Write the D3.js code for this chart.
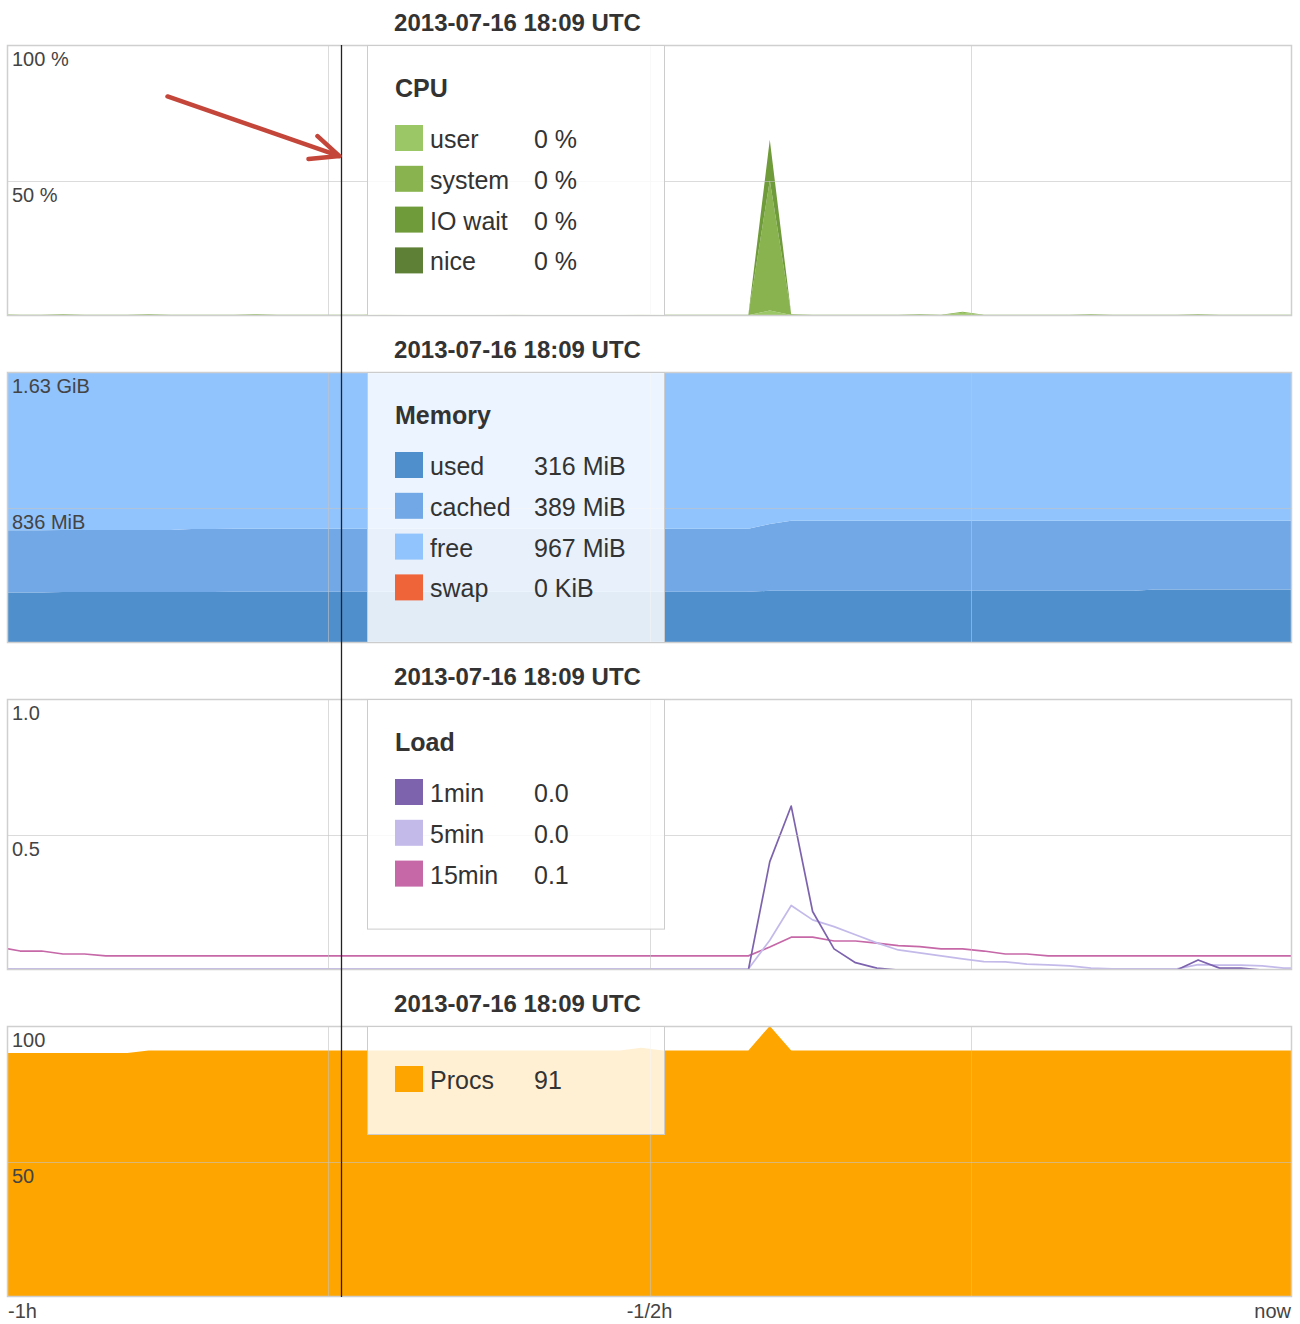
<!DOCTYPE html>
<html>
<head>
<meta charset="utf-8">
<script src="https://cdn.jsdelivr.net/npm/d3@7"></script>
<style>
  html, body { margin: 0; padding: 0; background: #fff; }
  svg { display: block; font-family: "Liberation Sans", Arial, sans-serif; }
</style>
</head>
<body>
<svg id="chart" width="1300" height="1324"></svg>
<script>
// ---- time window: one sample per minute, last hour ----
const firstSample = "2013-07-16T17:53:00Z";
const lastSample  = "2013-07-16T18:53:00Z";
const windowEnd   = "2013-07-16T18:53:23Z";
const cursorTime  = "2013-07-16T18:09:00Z";
const timeTickLabels = ["-1h", "-1/2h", "now"];

// ---- CPU (%) ----
const cpuKeys   = ["user", "system", "IO wait", "nice"];
const cpuColors = ["#9cc766", "#88b34f", "#6f9b3a", "#5d7f36"];
const cpuUser   = [0.4,0.3,0.3,0.4,0.3,0.3,0.3,0.4,0.3,0.3, 0.3,0.3,0.4,0.3,0.3,0.3,0.3,0.3,0.4,0.3, 0.3,0.3,0.3,0.3,0.4,0.3,0.3,0.3,0.3,0.3, 0.4,0.3,0.3,0.3,0.3,0.3,2.0,0.4,0.3,0.3, 0.3,0.3,0.3,0.4,0.3,1.2,0.3,0.3,0.3,0.3, 0.3,0.4,0.3,0.3,0.3,0.3,0.4,0.3,0.3,0.3, 0.3];
const cpuSystem = [0.2,0.2,0.2,0.2,0.2,0.2,0.2,0.2,0.2,0.2, 0.2,0.2,0.2,0.2,0.2,0.2,0.2,0.2,0.2,0.2, 0.2,0.2,0.2,0.2,0.2,0.2,0.2,0.2,0.2,0.2, 0.2,0.2,0.2,0.2,0.2,0.2,48,0.2,0.2,0.2, 0.2,0.2,0.2,0.2,0.2,0.4,0.2,0.2,0.2,0.2, 0.2,0.2,0.2,0.2,0.2,0.2,0.2,0.2,0.2,0.2, 0.2];
const cpuIowait = [0,0,0,0,0,0,0,0,0,0, 0,0,0,0,0,0,0,0,0,0, 0,0,0,0,0,0,0,0,0,0, 0,0,0,0,0,0,15,0,0,0, 0,0,0,0,0,0,0,0,0,0, 0,0,0,0,0,0,0,0,0,0, 0];
const cpuNice   = [0,0,0,0,0,0,0,0,0,0, 0,0,0,0,0,0,0,0,0,0, 0,0,0,0,0,0,0,0,0,0, 0,0,0,0,0,0,0,0,0,0, 0,0,0,0,0,0,0,0,0,0, 0,0,0,0,0,0,0,0,0,0, 0];
const cpuTicks  = [50, 100];

// ---- Memory (MiB) ----
const memKeys   = ["used", "cached", "free"];
const memColors = ["#4f8fcc", "#72a8e6", "#91c3fc"];
const swapColor = "#f0643a";
const memUsed   = [312,312,312,314,314,314,314,314,314,314, 314,316,316,316,316,316,316,316,316,316, 316,316,316,316,316,316,316,316,316,316, 316,316,316,316,316,316,322,322,322,322, 322,322,322,322,322,322,322,322,322,322, 322,322,322,322,330,330,330,330,330,330, 330];
const memCached = [383,383,383,383,383,383,383,383,383,389, 389,389,389,389,389,389,389,389,389,389, 389,389,389,389,389,389,389,389,389,389, 389,389,389,389,389,389,412,433,433,433, 433,433,433,433,433,433,433,433,433,433, 433,433,433,433,425,425,425,425,425,425, 425];
const memFree   = [977,977,977,975,975,975,975,975,975,969, 969,967,967,967,967,967,967,967,967,967, 967,967,967,967,967,967,967,967,967,967, 967,967,967,967,967,967,938,917,917,917, 917,917,917,917,917,917,917,917,917,917, 917,917,917,917,917,917,917,917,917,917, 917];
const memSwap   = [0,0,0,0,0,0,0,0,0,0, 0,0,0,0,0,0,0,0,0,0, 0,0,0,0,0,0,0,0,0,0, 0,0,0,0,0,0,0,0,0,0, 0,0,0,0,0,0,0,0,0,0, 0,0,0,0,0,0,0,0,0,0, 0];
const memTicks  = [836, 1672];

// ---- Load average ----
const loadKeys   = ["1min", "5min", "15min"];
const loadColors = ["#7d63ae", "#c4baea", "#c668a8"];
const load1  = [0,0,0,0,0,0,0,0,0,0, 0,0,0,0,0,0,0,0,0,0, 0,0,0,0,0,0,0,0,0,0, 0,0,0,0,0,0,0.40,0.605,0.216,0.078, 0.027,0.007,0,0,0,0,0,0,0,0, 0,0,0,0,0,0,0.037,0.007,0.007,0, 0];
const load5  = [0.004,0.004,0.004,0.004,0.004,0.004,0.004,0.004,0.004,0.004, 0.004,0.004,0.004,0.004,0.004,0.004,0.004,0.004,0.004,0.004, 0.004,0.004,0.004,0.004,0.004,0.004,0.004,0.004,0.004,0.004, 0.004,0.004,0.004,0.004,0.004,0.004,0.11,0.238,0.185,0.16, 0.13,0.10,0.074,0.063,0.052,0.041,0.031,0.03,0.022,0.019, 0.015,0.007,0.004,0.004,0.004,0.004,0.02,0.018,0.018,0.015, 0.007];
const load15 = [0.085,0.07,0.07,0.059,0.059,0.052,0.052,0.052,0.052,0.052, 0.052,0.052,0.052,0.052,0.052,0.052,0.052,0.052,0.052,0.052, 0.052,0.052,0.052,0.052,0.052,0.052,0.052,0.052,0.052,0.052, 0.052,0.052,0.052,0.052,0.052,0.052,0.085,0.121,0.121,0.107, 0.107,0.099,0.09,0.086,0.078,0.078,0.07,0.059,0.059,0.052, 0.052,0.052,0.052,0.052,0.052,0.052,0.052,0.052,0.052,0.052, 0.052];
const loadTicks = [0.5, 1.0];

// ---- Processes ----
const procColor = "#ffa500";
const procs = [90,90,90,90,90,90,90,91,91,91, 91,91,91,91,91,91,91,91,91,91, 91,91,91,91,91,91,91,91,91,91, 92,91,91,91,91,91,100,91,91,91, 91,91,91,91,91,91,91,91,91,91, 91,91,91,91,91,91,91,91,91,91, 91];
const procTicks = [50, 100];

// ---------------------------------------------------------------
const svg = d3.select("#chart");
const plotLeft = 7, plotRight = 1292;
const panelTop0 = 45, panelStep = 327, panelH = 271;
const legendLeft = 367, legendW = 297;

const times = d3.utcMinute.range(new Date(firstSample), d3.utcMinute.offset(new Date(lastSample), 1));
const tEnd = new Date(windowEnd);
const tStart = d3.utcHour.offset(tEnd, -1);
const tCursor = new Date(cursorTime);
const cursorIndex = times.findIndex(t => +t === +tCursor);

const x = d3.scaleUtc().domain([tStart, tEnd]).range([plotLeft, plotRight]);
const quarterTimes = [15, 30, 45].map(m => d3.utcMinute.offset(tStart, m));

// each series is carried on to the right edge of the window with its last sample
const extend = arr => arr.concat([arr[arr.length - 1]]);
const xTimes = times.concat([tEnd]);

const fmtTitle = d3.utcFormat("%Y-%m-%d %H:%M UTC");
function fmtMem(mib) {
  if (mib >= 1024) return d3.format(".2f")(mib / 1024) + " GiB";
  if (mib >= 1) return d3.format(".0f")(mib) + " MiB";
  return d3.format(".0f")(mib * 1024) + " KiB";
}

function drawPanel(k, opt) {
  const top = panelTop0 + panelStep * k;
  const bottom = top + panelH;
  const y = d3.scaleLinear().domain([0, opt.max]).range([bottom, top]);
  const g = svg.append("g");

  const clipId = "clip-" + k;
  svg.append("clipPath").attr("id", clipId)
    .append("rect").attr("x", plotLeft).attr("y", top)
    .attr("width", plotRight - plotLeft).attr("height", panelH);

  g.append("rect").attr("x", plotLeft).attr("y", top)
    .attr("width", plotRight - plotLeft).attr("height", panelH).attr("fill", "#fff");

  const plot = g.append("g").attr("clip-path", `url(#${clipId})`);
  opt.draw(plot, y);

  // grid
  const grid = g.append("g").attr("stroke", "rgba(195,195,195,0.6)").attr("stroke-width", 1)
    .attr("shape-rendering", "crispEdges");
  grid.selectAll("line.v").data(quarterTimes).join("line")
    .attr("x1", d => Math.round(x(d)) + 0.5).attr("x2", d => Math.round(x(d)) + 0.5)
    .attr("y1", top).attr("y2", bottom);
  grid.selectAll("line.h").data(opt.ticks.filter(t => t < opt.max)).join("line")
    .attr("x1", plotLeft).attr("x2", plotRight)
    .attr("y1", d => Math.round(y(d)) + 0.5).attr("y2", d => Math.round(y(d)) + 0.5);

  // frame
  g.append("rect").attr("x", plotLeft + 0.5).attr("y", top + 0.5)
    .attr("width", plotRight - plotLeft - 1).attr("height", panelH - 1)
    .attr("fill", "none").attr("stroke", "#cfcfcf").attr("stroke-width", 1.5);

  // y labels
  g.selectAll("text.ylab").data(opt.ticks).join("text")
    .attr("x", plotLeft + 5).attr("y", d => y(d) + 21)
    .attr("font-size", 20).attr("fill", "#444")
    .text(opt.tickFormat);

  // time stamp of the cursor
  g.append("text")
    .attr("x", legendLeft + legendW / 2 + 2).attr("y", top - 14)
    .attr("text-anchor", "middle").attr("font-size", 24).attr("font-weight", "bold")
    .attr("fill", "#333").text(fmtTitle(tCursor));

  // legend box
  const hasTitle = !!opt.title;
  const rowH = 40.8;
  const boxH = Math.min(panelH, 68.2 + (hasTitle ? 40 : 0) + rowH * opt.legend.length);
  const lg = g.append("g");
  lg.append("rect").attr("x", legendLeft + 0.5).attr("y", top + 0.5)
    .attr("width", legendW).attr("height", boxH - 1)
    .attr("fill", "rgba(255,255,255,0.83)").attr("stroke", "#cccccc").attr("stroke-width", 1);
  if (hasTitle) {
    lg.append("text").attr("x", legendLeft + 28).attr("y", top + 52)
      .attr("font-size", 25).attr("font-weight", "bold").attr("fill", "#333").text(opt.title);
  }
  const rowTop0 = top + 40 + (hasTitle ? 40 : 0);
  const rows = lg.selectAll("g.row").data(opt.legend).join("g")
    .attr("transform", (d, i) => `translate(0,${rowTop0 + i * rowH})`);
  rows.append("rect").attr("x", legendLeft + 28).attr("y", 0)
    .attr("width", 28).attr("height", 26).attr("fill", d => d.color);
  rows.append("text").attr("x", legendLeft + 63).attr("y", 23)
    .attr("font-size", 25).attr("fill", "#333").text(d => d.name);
  rows.append("text").attr("x", legendLeft + 167).attr("y", 23)
    .attr("font-size", 25).attr("fill", "#333").text(d => d.value);

  return { top, bottom, y };
}

// ---- CPU panel ----
const cpuSeries = [cpuUser, cpuSystem, cpuIowait, cpuNice];
const cpuRows = xTimes.map((t, i) => {
  const r = { time: t };
  cpuKeys.forEach((key, j) => { r[key] = extend(cpuSeries[j])[i]; });
  return r;
});
const cpuPanel = drawPanel(0, {
  max: 100, ticks: cpuTicks, tickFormat: d => d + " %", title: "CPU",
  legend: cpuKeys.map((key, j) => ({ name: key, color: cpuColors[j],
    value: d3.format(".0f")(cpuSeries[j][cursorIndex]) + " %" })),
  draw: (plot, y) => {
    const stack = d3.stack().keys(cpuKeys)(cpuRows);
    const area = d3.area().x(d => x(d.data.time)).y0(d => y(d[0])).y1(d => y(d[1]));
    plot.selectAll("path").data(stack).join("path")
      .attr("d", area).attr("fill", (d, j) => cpuColors[j]);
  }
});

// ---- Memory panel ----
const memSeries = [memUsed, memCached, memFree];
const memRows = xTimes.map((t, i) => {
  const r = { time: t };
  memKeys.forEach((key, j) => { r[key] = extend(memSeries[j])[i]; });
  return r;
});
drawPanel(1, {
  max: memTicks[1], ticks: memTicks, tickFormat: fmtMem, title: "Memory",
  legend: memKeys.map((key, j) => ({ name: key, color: memColors[j], value: fmtMem(memSeries[j][cursorIndex]) }))
    .concat([{ name: "swap", color: swapColor, value: fmtMem(memSwap[cursorIndex]) }]),
  draw: (plot, y) => {
    const stack = d3.stack().keys(memKeys)(memRows);
    const area = d3.area().x(d => x(d.data.time)).y0(d => y(d[0])).y1(d => y(d[1]));
    plot.selectAll("path.mem").data(stack).join("path").attr("class", "mem")
      .attr("d", area).attr("fill", (d, j) => memColors[j]);
    plot.append("path").datum(extend(memSwap))
      .attr("d", d3.area().x((d, i) => x(xTimes[i])).y0(y(0)).y1(d => y(d)))
      .attr("fill", swapColor);
  }
});

// ---- Load panel ----
const loadSeries = [load1, load5, load15];
drawPanel(2, {
  max: loadTicks[1], ticks: loadTicks, tickFormat: d3.format(".1f"), title: "Load",
  legend: loadKeys.map((key, j) => ({ name: key, color: loadColors[j],
    value: d3.format(".1f")(loadSeries[j][cursorIndex]) })),
  draw: (plot, y) => {
    const line = d3.line().x((d, i) => x(xTimes[i])).y(d => y(d));
    const order = [2, 1, 0];
    plot.selectAll("path").data(order).join("path")
      .attr("d", j => line(extend(loadSeries[j])))
      .attr("fill", "none").attr("stroke", j => loadColors[j]).attr("stroke-width", 1.7)
      .attr("stroke-linejoin", "round");
  }
});

// ---- Processes panel ----
const procPanel = drawPanel(3, {
  max: procTicks[1], ticks: procTicks, tickFormat: d => String(d), title: null,
  legend: [{ name: "Procs", color: procColor, value: d3.format(".0f")(procs[cursorIndex]) }],
  draw: (plot, y) => {
    plot.append("path").datum(extend(procs))
      .attr("d", d3.area().x((d, i) => x(xTimes[i])).y0(y(0)).y1(d => y(d)))
      .attr("fill", procColor);
  }
});

// ---- time axis labels ----
const axisTimes = [tStart, d3.utcMinute.offset(tStart, 30), tEnd];
const anchors = ["start", "middle", "end"];
svg.selectAll("text.xlab").data(axisTimes).join("text")
  .attr("x", (d, i) => x(d) + (i === 0 ? 1 : i === 2 ? -1 : 0))
  .attr("y", procPanel.bottom + 21)
  .attr("text-anchor", (d, i) => anchors[i])
  .attr("font-size", 20).attr("fill", "#444")
  .text((d, i) => timeTickLabels[i]);

// ---- cursor ----
const cx = Math.round(x(tCursor)) + 0.5;
svg.append("line").attr("x1", cx).attr("x2", cx)
  .attr("y1", panelTop0).attr("y2", procPanel.bottom)
  .attr("stroke", "#222").attr("stroke-width", 1.3);

// ---- arrow pointing at the cursor ----
const tipX = cx - 2, tipY = cpuPanel.y(59);
const tailX = cx - 174, tailY = cpuPanel.y(81);
svg.append("path")
  .attr("d", `M${tailX},${tailY}L${tipX},${tipY}M${tipX - 22},${tipY - 20}L${tipX},${tipY}L${tipX - 31},${tipY + 3}`)
  .attr("fill", "none").attr("stroke", "#c4453a").attr("stroke-width", 4.5)
  .attr("stroke-linecap", "round").attr("stroke-linejoin", "round");
</script>
</body>
</html>
